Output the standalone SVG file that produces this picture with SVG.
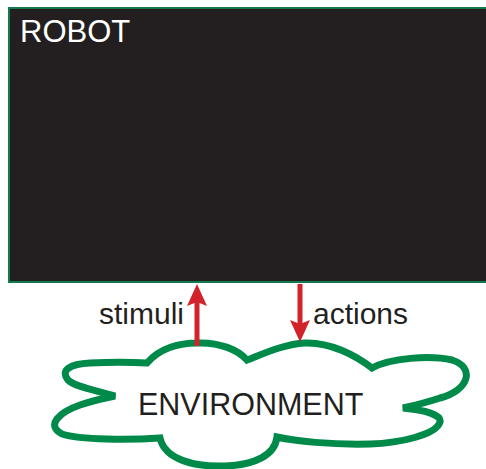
<svg xmlns="http://www.w3.org/2000/svg" width="486" height="469" viewBox="0 0 486 469">
<defs>
<style>
.lbl{font-family:"Liberation Sans",Arial,sans-serif;font-size:30px;fill:#231f20}
.arr{stroke:#d2232a;stroke-width:5;fill:none}
</style>
<marker id="ah" viewBox="0 0 22 20" refX="4" refY="10" markerWidth="22" markerHeight="20" orient="auto" markerUnits="userSpaceOnUse">
<path d="M0,0 L22,10 L0,20 L4,10 z" fill="#d2232a"/>
</marker>
</defs>
<rect width="486" height="469" fill="#fff"/>
<g id="robot">
<rect x="9" y="8" width="480" height="274" fill="#231f20" stroke="#137a4e" stroke-width="2"/>
<text x="20" y="42" class="lbl" style="fill:#fff;font-size:31px">ROBOT</text>
</g>
<g id="environment">
<path d="M147,363 C160,348 180,343 197,343 C220,342 238,350 247,360 C265,353 285,344 305,343 C330,342 355,355 372,368 C390,358 430,355 452,360 C475,367 470,390 440,398 C425,403 412,406 403,408 C425,410 442,415 440,422 C436,435 400,443 370,444 C330,445 295,441 277,437 C275,455 255,465 225,466 C195,467 165,460 160,438 C130,440 80,440 62,434 C45,425 60,412 80,405 C95,400 105,398 115,396 C95,390 75,387 68,380 C60,370 70,364 90,363 C110,362 130,362 147,363 Z" fill="#fff" stroke="#008a4a" stroke-width="7" stroke-linejoin="miter"/>
<text x="138" y="415" class="lbl" style="font-size:30.5px">ENVIRONMENT</text>
</g>
<g id="connectors">
<line x1="197" y1="346" x2="197" y2="302" class="arr" marker-end="url(#ah)"/>
<line x1="300" y1="284" x2="300" y2="324" class="arr" marker-end="url(#ah)"/>
<text x="99" y="324" class="lbl">stimuli</text>
<text x="313" y="324" class="lbl">actions</text>
</g>
</svg>
